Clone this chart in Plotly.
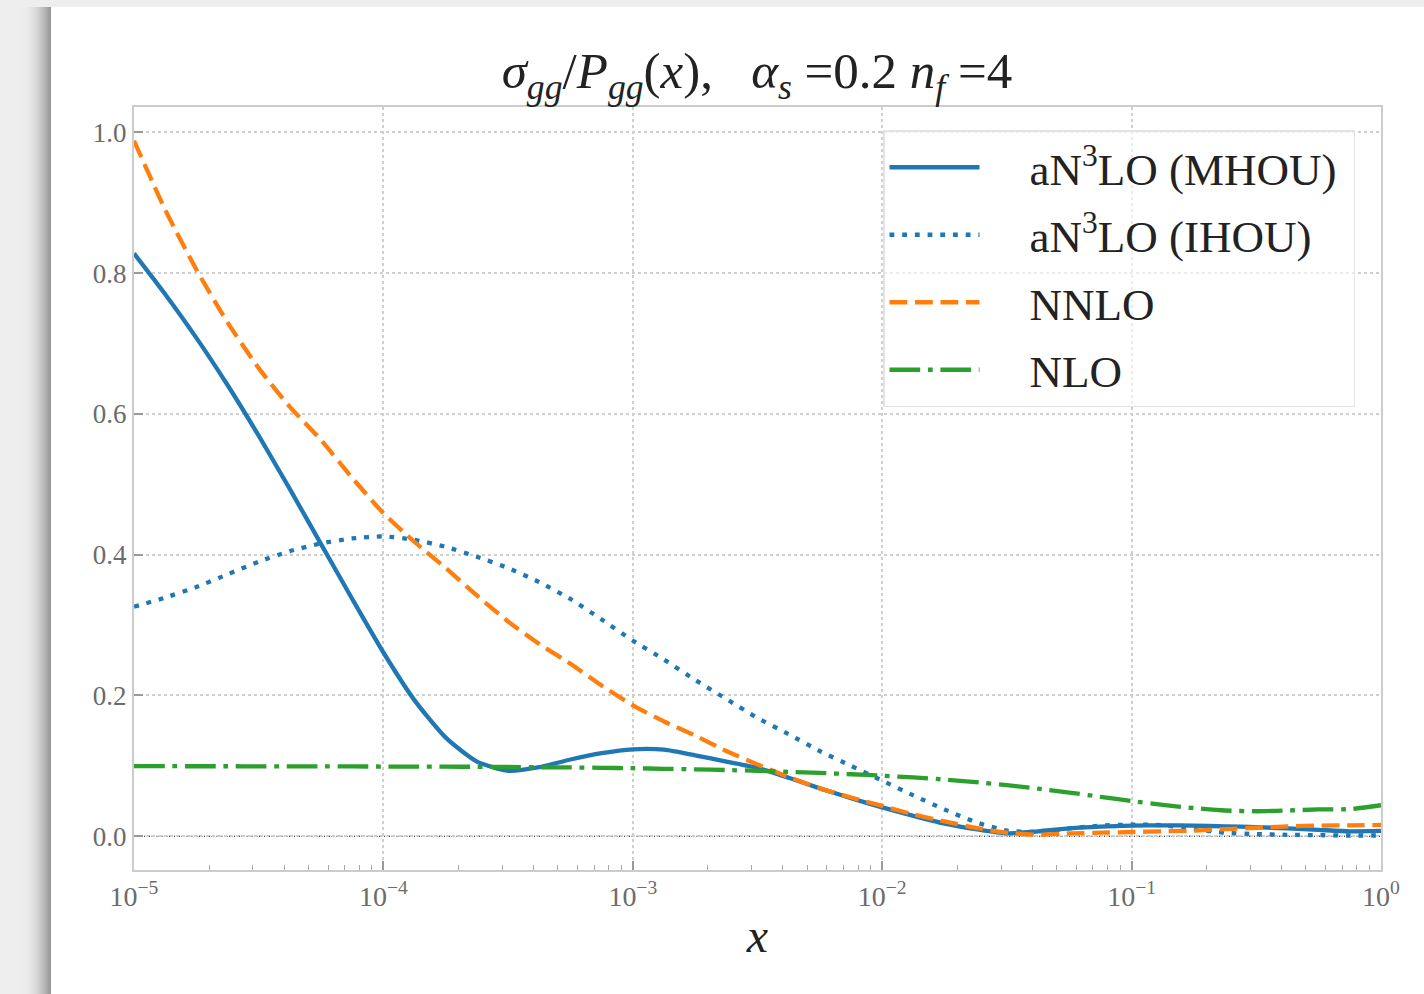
import plotly.graph_objects as go

# ---------------- data ----------------
LOG10_X = [-5.0, -4.875, -4.75, -4.625, -4.5, -4.375, -4.25, -4.125,
           -4.0, -3.875, -3.75, -3.625, -3.5, -3.375, -3.25, -3.125,
           -3.0, -2.875, -2.75, -2.625, -2.5, -2.375, -2.25, -2.125,
           -2.0, -1.875, -1.75, -1.625, -1.5, -1.375, -1.25, -1.125,
           -1.0, -0.875, -0.75, -0.625, -0.5, -0.375, -0.25, -0.125, 0.0]

MHOU = [0.828, 0.770, 0.708, 0.641, 0.569, 0.493, 0.415, 0.337,
        0.261, 0.193, 0.140, 0.106, 0.093, 0.098, 0.109, 0.118,
        0.1235, 0.123, 0.115, 0.106, 0.097, 0.083, 0.068, 0.054,
        0.041, 0.029, 0.018, 0.010, 0.004, 0.007, 0.011, 0.0135,
        0.015, 0.0155, 0.015, 0.014, 0.013, 0.011, 0.009, 0.007, 0.0075]

IHOU = [0.326, 0.339, 0.354, 0.372, 0.390, 0.405, 0.416, 0.423,
        0.426, 0.421, 0.411, 0.397, 0.381, 0.361, 0.337, 0.308,
        0.278, 0.251, 0.222, 0.195, 0.168, 0.145, 0.121, 0.100,
        0.079, 0.058, 0.038, 0.020, 0.008, 0.006, 0.011, 0.015,
        0.0165, 0.0155, 0.010, 0.005, 0.003, 0.002, 0.0015, 0.001, 0.001]

NNLO = [0.988, 0.890, 0.805, 0.730, 0.665, 0.610, 0.563, 0.509,
        0.459, 0.418, 0.381, 0.342, 0.305, 0.273, 0.245, 0.214,
        0.186, 0.163, 0.143, 0.121, 0.102, 0.084, 0.068, 0.055,
        0.043, 0.031, 0.021, 0.012, 0.005, 0.002, 0.004, 0.005,
        0.006, 0.007, 0.008, 0.010, 0.012, 0.014, 0.015, 0.0155, 0.016]

NLO = [0.0995, 0.0995, 0.0994, 0.0994, 0.0993, 0.0993, 0.0992, 0.0991,
       0.0990, 0.0989, 0.0988, 0.0986, 0.0983, 0.0980, 0.0977, 0.0972,
       0.0966, 0.0958, 0.0950, 0.0940, 0.0930, 0.0915, 0.0900, 0.0880,
       0.0860, 0.0835, 0.0805, 0.0768, 0.0725, 0.0675, 0.0620, 0.0560,
       0.0500, 0.0445, 0.0400, 0.0365, 0.0355, 0.0365, 0.0380, 0.0385, 0.0440]

SERIES_NAMES = ["aN<sup>3</sup>LO (MHOU)", "aN<sup>3</sup>LO (IHOU)", "NNLO", "NLO"]

X_TICK_VALS = [1e-5, 1e-4, 1e-3, 1e-2, 1e-1, 1e0]
X_TICK_TEXT = ["10<sup>\u22125</sup>", "10<sup>\u22124</sup>", "10<sup>\u22123</sup>",
               "10<sup>\u22122</sup>", "10<sup>\u22121</sup>", "10<sup>0</sup>"]
Y_TICK_VALS = [0.0, 0.2, 0.4, 0.6, 0.8, 1.0]
Y_TICK_TEXT = ["0.0", "0.2", "0.4", "0.6", "0.8", "1.0"]

TITLE = ("<i>\u03c3<sub>gg</sub></i>/<i>P<sub>gg</sub></i>(<i>x</i>),\u00a0\u00a0 "
         "<i>\u03b1<sub>s</sub></i> =0.2 <i>n<sub>f</sub></i> =4")

# ---------------- figure ----------------
W, H = 1424, 994
L, R, T, B = 134, 1381, 107, 870  # plot area in pixels
FONT = "Liberation Serif"
PAD = "\u00a0\u00a0\u00a0\u00a0"  # gap between legend sample and label

x = [10 ** e for e in LOG10_X]

styles = [
    dict(color="#1f77b4", width=4.3, dash="solid"),
    dict(color="#1f77b4", width=4.3, dash="4.8px,7.9px"),
    dict(color="#ff7f0e", width=4.3, dash="17.8px,7.7px"),
    dict(color="#2ca02c", width=4.3, dash="30.7px,7.7px,4.8px,7.7px"),
]

fig = go.Figure()
for i, (name, ys) in enumerate(zip(SERIES_NAMES, [MHOU, IHOU, NNLO, NLO])):
    fig.add_trace(go.Scatter(
        x=x, y=ys, mode="lines", name=PAD + name + "\u00a0", legendgroup=f"g{i}",
        line=dict(shape="spline", smoothing=0.6, **styles[i]),
    ))


def pxx(p):
    return (p - L) / (R - L)


def pxy(p):
    return (B - p) / (B - T)


shapes = []
# card with shadow on its left edge
for k in range(32):
    p = 19 + k
    t = k / 31.0
    g = int(round(238 - (238 - 150) * t ** 2.2))
    shapes.append(dict(type="rect", xref="paper", yref="paper",
                       x0=pxx(p), x1=pxx(p + 1), y0=pxy(H + 5), y1=pxy(7),
                       fillcolor=f"rgb({g},{g},{g})", line=dict(width=0), layer="below"))
shapes.append(dict(type="rect", xref="paper", yref="paper",
                   x0=pxx(51), x1=pxx(W + 5), y0=pxy(H + 5), y1=pxy(7),
                   fillcolor="white", line=dict(width=0), layer="below"))
# zero reference line
shapes.append(dict(type="line", xref="paper", yref="y", x0=0, x1=1, y0=0, y1=0,
                   line=dict(color="black", width=1, dash="1px,1.5px"), layer="below"))

axis_common = dict(
    showline=True, mirror=True, linecolor="#cccccc", linewidth=2,
    ticks="inside", ticklen=9, tickwidth=2, tickcolor="#999999",
    showgrid=True, gridcolor="#cfcfcf", gridwidth=1.5, griddash="dot",
    zeroline=False,
)

fig.update_layout(
    width=W, height=H,
    margin=dict(l=L, r=W - R, t=T, b=H - B),
    paper_bgcolor="#eeeeee", plot_bgcolor="white",
    shapes=shapes,
    title=dict(text=TITLE, x=757 / W, xanchor="center",
               y=1 - 70 / H, yanchor="middle",
               font=dict(family=FONT, size=51, color="#222222")),
    xaxis=dict(type="log", range=[-5, 0], tickvals=X_TICK_VALS, ticktext=X_TICK_TEXT,
               tickfont=dict(family=FONT, size=28, color="#6b6b6b"),
               minor=dict(ticks="inside", ticklen=5, tickwidth=1.2, tickcolor="#aaaaaa",
                          tickvals=[m * 10 ** e for e in range(-5, 0) for m in range(2, 10)],
                          showgrid=False),
               title=dict(text="<i>x</i>", font=dict(family=FONT, size=48, color="#222222"),
                          standoff=8),
               **axis_common),
    yaxis=dict(range=[-0.048, 1.036], tickvals=Y_TICK_VALS, ticktext=Y_TICK_TEXT,
               tickfont=dict(family=FONT, size=27, color="#6b6b6b"),
               **axis_common),
    legend=dict(x=pxx(883), y=pxy(130), xanchor="left", yanchor="top",
                bgcolor="rgba(255,255,255,0.6)", bordercolor="#e3e3e3", borderwidth=1.5,
                font=dict(family=FONT, size=45, color="#222222"),
                itemwidth=90, tracegroupgap=6, traceorder="grouped"),
    showlegend=True,
)

fig.write_html("out.html")
